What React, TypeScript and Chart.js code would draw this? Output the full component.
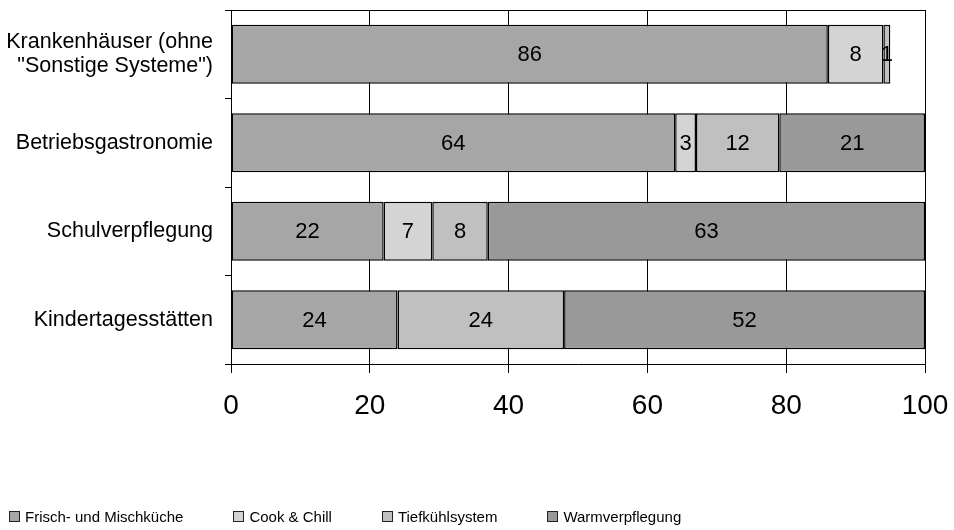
import React, { useEffect, useRef } from "react";
import { Chart, registerables } from "chart.js";

Chart.register(...registerables);

const categories: (string | string[])[] = [
  ["Krankenhäuser (ohne", "\"Sonstige Systeme\")"],
  "Betriebsgastronomie",
  "Schulverpflegung",
  "Kindertagesstätten",
];
const seriesNames = ["Frisch- und Mischküche", "Cook & Chill", "Tiefkühlsystem", "Warmverpflegung"];
const frisch = [86, 64, 22, 24];
const cookChill = [8, 3, 7, 0];
const tiefkuehl = [1, 12, 8, 24];
const warm = [0, 21, 63, 52];
const xTicks = [0, 20, 40, 60, 80, 100];
const colors = ["#a6a6a6", "#d4d4d4", "#c0c0c0", "#999999"];

const FONT = "'Liberation Sans', Arial, sans-serif";

const valueLabels = {
  id: "valueLabels",
  afterDatasetsDraw(chart: any) {
    const ctx = chart.ctx;
    ctx.save();
    ctx.font = `22px ${FONT}`;
    ctx.fillStyle = "#000";
    ctx.textAlign = "center";
    ctx.textBaseline = "middle";
    chart.data.datasets.forEach((ds: any, i: number) => {
      const meta = chart.getDatasetMeta(i);
      meta.data.forEach((el: any, j: number) => {
        const v = ds.data[j];
        if (!v) return;
        const { x, base, y } = el.getProps(["x", "base", "y"], true);
        ctx.fillText(String(v), (x + base) / 2, y + 1);
      });
    });
    ctx.restore();
  },
};

const frame = {
  id: "frame",
  afterDraw(chart: any) {
    const { ctx, chartArea: a } = chart;
    ctx.save();
    ctx.strokeStyle = "#000";
    ctx.lineWidth = 1;
    ctx.beginPath();
    ctx.moveTo(a.left, a.top + 0.5);
    ctx.lineTo(a.right, a.top + 0.5);
    ctx.stroke();
    ctx.restore();
  },
};

export default function App() {
  const ref = useRef<HTMLCanvasElement>(null);
  useEffect(() => {
    document.body.style.margin = "0";
    const seriesData = [frisch, cookChill, tiefkuehl, warm];
    const chart = new Chart(ref.current!, {
      type: "bar",
      data: {
        labels: categories,
        datasets: seriesNames.map((name, i) => ({
          label: name,
          data: seriesData[i],
          backgroundColor: colors[i],
          borderColor: "#000",
          borderWidth: 1.5,
          borderSkipped: false,
          categoryPercentage: 1,
          barPercentage: 0.667,
        })),
      },
      options: {
        indexAxis: "y",
        animation: false,
        responsive: false,
        layout: { padding: { left: 0, right: 29, top: 10, bottom: 0 } },
        scales: {
          x: {
            stacked: true,
            min: 0,
            max: 100,
            afterBuildTicks: (s: any) => {
              s.ticks = xTicks.map((v) => ({ value: v }));
            },
            afterFit: (s: any) => {
              s.height = 166;
              s.paddingLeft = 0;
              s.paddingRight = 0;
            },
            grid: {
              color: "#000",
              lineWidth: 1,
              tickLength: 9,
              drawOnChartArea: true,
            },
            border: { color: "#000", width: 1 },
            ticks: {
              color: "#000",
              font: { family: FONT, size: 28 },
              padding: 16,
              maxRotation: 0,
            },
          },
          y: {
            stacked: true,
            afterFit: (s: any) => {
              s.width = 231;
              s.paddingTop = 0;
              s.paddingBottom = 0;
            },
            grid: {
              offset: true,
              drawOnChartArea: false,
              color: "#000",
              tickLength: 6,
            },
            border: { color: "#000", width: 1 },
            ticks: {
              color: "#000",
              font: { family: FONT, size: 21.5, lineHeight: 1.12 },
              padding: 12,
            },
          },
        },
        plugins: {
          legend: { display: false },
          tooltip: { enabled: false },
        },
      },
      plugins: [valueLabels, frame],
    });
    return () => chart.destroy();
  }, []);
  return (
    <div style={{ position: "relative", width: 954, height: 530 }}>
      <canvas ref={ref} width={954} height={530} style={{ display: "block" }} />
      <div
        style={{
          position: "absolute",
          left: 9,
          top: 508,
          display: "flex",
          alignItems: "center",
          fontFamily: FONT,
          fontSize: 15,
          color: "#000",
          whiteSpace: "nowrap",
        }}
      >
        {seriesNames.map((name, i) => (
          <div key={name} style={{ display: "flex", alignItems: "center", marginRight: 50 }}>
            <span
              style={{
                display: "inline-block",
                width: 9,
                height: 9,
                background: colors[i],
                border: "1px solid #222",
                marginRight: 5,
              }}
            />
            <span>{name}</span>
          </div>
        ))}
      </div>
    </div>
  );
}
